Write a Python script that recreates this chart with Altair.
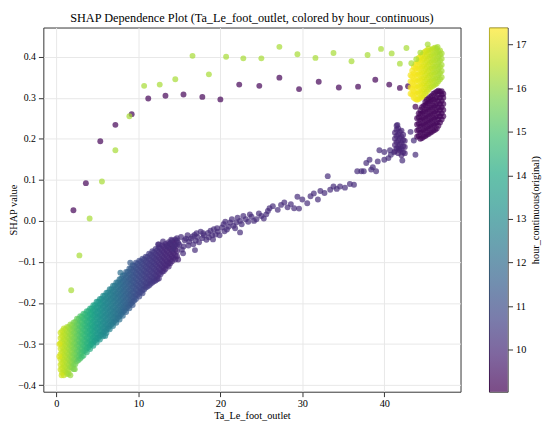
import altair as alt
import pandas as pd

# ---------------- data ----------------
# sparse upper arc (yellow, late hours)
arc_yellow = [(8.9, 0.255), (10.7, 0.329), (12.6, 0.332), (14.5, 0.345), (16.6, 0.402),
              (18.6, 0.357), (20.7, 0.400), (22.8, 0.396), (25.0, 0.396), (27.2, 0.424),
              (29.4, 0.406), (31.6, 0.397), (33.8, 0.409), (36.0, 0.389), (37.96, 0.404),
              (39.6, 0.419), (40.9, 0.408), (41.9, 0.383), (42.7, 0.421), (43.3, 0.384),
              (43.9, 0.394), (44.4, 0.410), (45.3, 0.430), (46.5, 0.424),
              (7.19, 0.172), (5.55, 0.096), (4.05, 0.006), (2.8, -0.084), (1.8, -0.169)]
arc_yellow_hour = 16.3

# sparse upper arc (purple, early hours)
arc_purple = [(9.18, 0.260), (7.19, 0.234), (5.35, 0.194), (3.59, 0.092), (2.07, 0.026),
              (11.2, 0.298), (13.3, 0.305), (15.5, 0.308), (17.8, 0.302), (20.0, 0.296),
              (22.3, 0.332), (24.75, 0.329), (27.2, 0.349), (29.6, 0.321), (32.0, 0.339),
              (34.45, 0.325), (36.8, 0.327), (38.9, 0.344), (40.6, 0.332), (41.9, 0.324),
              (42.9, 0.328), (43.8, 0.278)]
arc_purple_hour = 9.1

# dense lower-left band: (x, hour, [y values])
band_cols = [
    (0.5, 16.8, [-0.272, -0.285, -0.298, -0.311, -0.324, -0.337, -0.350, -0.362]),
    (0.7, 16.7, [-0.268, -0.281, -0.294, -0.307, -0.320, -0.333, -0.346, -0.359, -0.370]),
    (0.9, 16.6, [-0.262, -0.275, -0.288, -0.301, -0.314, -0.327, -0.340, -0.353, -0.366, -0.376]),
    (1.1, 16.5, [-0.264, -0.277, -0.290, -0.303, -0.316, -0.329, -0.342, -0.355, -0.368]),
    (1.3, 16.4, [-0.258, -0.271, -0.284, -0.297, -0.310, -0.323, -0.336, -0.349, -0.362, -0.373]),
    (1.5, 16.25, [-0.259, -0.272, -0.285, -0.298, -0.311, -0.324, -0.337, -0.350, -0.363, -0.372]),
    (1.7, 16.1, [-0.252, -0.265, -0.278, -0.291, -0.304, -0.317, -0.330, -0.343, -0.356, -0.376]),
    (1.9, 15.95, [-0.254, -0.267, -0.280, -0.293, -0.306, -0.319, -0.332, -0.345, -0.357]),
    (2.1, 15.8, [-0.247, -0.260, -0.273, -0.286, -0.299, -0.312, -0.325, -0.338, -0.350, -0.361]),
    (2.3, 15.65, [-0.246, -0.259, -0.272, -0.285, -0.298, -0.311, -0.324, -0.337, -0.349]),
    (2.5, 15.5, [-0.238, -0.251, -0.264, -0.277, -0.290, -0.303, -0.316, -0.329, -0.342]),
    (2.7, 15.3, [-0.239, -0.252, -0.265, -0.278, -0.291, -0.304, -0.317, -0.330, -0.339]),
    (2.9, 15.1, [-0.232, -0.245, -0.258, -0.271, -0.284, -0.297, -0.310, -0.323, -0.335]),
    (3.1, 14.95, [-0.233, -0.246, -0.259, -0.272, -0.285, -0.298, -0.311, -0.322, -0.331]),
    (3.3, 14.8, [-0.226, -0.239, -0.252, -0.265, -0.278, -0.291, -0.304, -0.317, -0.328]),
    (3.5, 14.65, [-0.227, -0.240, -0.253, -0.266, -0.279, -0.292, -0.305, -0.316]),
    (3.7, 14.5, [-0.220, -0.233, -0.246, -0.259, -0.272, -0.285, -0.298, -0.310, -0.320]),
    (3.9, 14.35, [-0.220, -0.233, -0.246, -0.259, -0.272, -0.285, -0.298, -0.308]),
    (4.1, 14.2, [-0.213, -0.226, -0.239, -0.252, -0.265, -0.278, -0.291, -0.303, -0.312]),
    (4.3, 14.05, [-0.213, -0.226, -0.239, -0.252, -0.265, -0.278, -0.291, -0.300]),
    (4.5, 13.9, [-0.205, -0.218, -0.231, -0.244, -0.257, -0.270, -0.283, -0.295, -0.304]),
    (4.7, 13.75, [-0.205, -0.218, -0.231, -0.244, -0.257, -0.270, -0.283, -0.292]),
    (4.9, 13.6, [-0.197, -0.210, -0.223, -0.236, -0.249, -0.262, -0.275, -0.287, -0.296]),
    (5.1, 13.5, [-0.197, -0.210, -0.223, -0.236, -0.249, -0.262, -0.275, -0.285]),
    (5.3, 13.4, [-0.190, -0.203, -0.216, -0.229, -0.242, -0.255, -0.268, -0.280, -0.289]),
    (5.5, 13.25, [-0.190, -0.203, -0.216, -0.229, -0.242, -0.255, -0.268, -0.277]),
    (5.7, 13.1, [-0.182, -0.195, -0.208, -0.221, -0.234, -0.247, -0.260, -0.272, -0.281]),
    (5.9, 13.0, [-0.182, -0.195, -0.208, -0.221, -0.234, -0.247, -0.260, -0.269]),
    (6.1, 12.9, [-0.175, -0.188, -0.201, -0.214, -0.227, -0.240, -0.253, -0.265, -0.273]),
    (6.3, 12.8, [-0.174, -0.187, -0.200, -0.213, -0.226, -0.239, -0.252, -0.261]),
    (6.5, 12.7, [-0.166, -0.179, -0.192, -0.205, -0.218, -0.231, -0.244, -0.256, -0.264]),
    (6.7, 12.6, [-0.166, -0.179, -0.192, -0.205, -0.218, -0.231, -0.244, -0.252]),
    (6.9, 12.5, [-0.158, -0.171, -0.184, -0.197, -0.210, -0.223, -0.236, -0.248, -0.256]),
    (7.1, 12.4, [-0.158, -0.171, -0.184, -0.197, -0.210, -0.223, -0.236, -0.244]),
    (7.3, 12.3, [-0.150, -0.163, -0.176, -0.189, -0.202, -0.215, -0.228, -0.240, -0.248]),
    (7.5, 12.2, [-0.150, -0.163, -0.176, -0.189, -0.202, -0.215, -0.228, -0.236]),
    (7.7, 12.1, [-0.142, -0.155, -0.168, -0.181, -0.194, -0.207, -0.220, -0.232, -0.240]),
    (7.9, 12.0, [-0.141, -0.154, -0.167, -0.180, -0.193, -0.206, -0.219, -0.227]),
    (8.1, 11.9, [-0.133, -0.146, -0.159, -0.172, -0.185, -0.198, -0.211, -0.222, -0.231]),
    (8.3, 11.8, [-0.132, -0.145, -0.158, -0.171, -0.184, -0.197, -0.210, -0.218]),
    (8.5, 11.7, [-0.124, -0.137, -0.150, -0.163, -0.176, -0.189, -0.202, -0.213, -0.222]),
    (8.7, 11.6, [-0.124, -0.137, -0.150, -0.163, -0.176, -0.189, -0.202, -0.209]),
    (8.9, 11.5, [-0.116, -0.129, -0.142, -0.155, -0.168, -0.181, -0.194, -0.205, -0.213]),
    (9.1, 11.4, [-0.116, -0.129, -0.142, -0.155, -0.168, -0.181, -0.194, -0.201]),
    (9.3, 11.3, [-0.108, -0.121, -0.134, -0.147, -0.160, -0.173, -0.186, -0.197, -0.205]),
    (9.5, 11.2, [-0.109, -0.122, -0.135, -0.148, -0.161, -0.174, -0.186, -0.194]),
    (9.7, 11.1, [-0.102, -0.115, -0.128, -0.141, -0.154, -0.167, -0.180, -0.190]),
    (9.9, 11.0, [-0.104, -0.117, -0.130, -0.143, -0.156, -0.169, -0.180]),
    (10.1, 10.9, [-0.097, -0.110, -0.123, -0.136, -0.149, -0.162, -0.175, -0.184]),
    (10.3, 10.85, [-0.099, -0.112, -0.125, -0.138, -0.151, -0.164, -0.173]),
    (10.5, 10.8, [-0.092, -0.105, -0.118, -0.131, -0.144, -0.157, -0.168, -0.176]),
    (10.7, 10.7, [-0.094, -0.107, -0.120, -0.133, -0.146, -0.158, -0.167]),
    (10.9, 10.6, [-0.087, -0.100, -0.113, -0.126, -0.139, -0.152, -0.162]),
    (11.1, 10.55, [-0.088, -0.101, -0.114, -0.127, -0.140, -0.152, -0.160]),
    (11.3, 10.5, [-0.080, -0.093, -0.106, -0.119, -0.132, -0.145, -0.157]),
    (11.5, 10.45, [-0.082, -0.095, -0.108, -0.121, -0.134, -0.146, -0.153]),
    (11.7, 10.4, [-0.074, -0.087, -0.100, -0.113, -0.126, -0.139, -0.150]),
    (11.9, 10.35, [-0.076, -0.089, -0.102, -0.115, -0.128, -0.140, -0.147]),
    (12.1, 10.3, [-0.068, -0.081, -0.094, -0.107, -0.120, -0.133, -0.145]),
    (12.3, 10.25, [-0.071, -0.084, -0.097, -0.110, -0.123, -0.135, -0.142]),
    (12.5, 10.2, [-0.064, -0.077, -0.090, -0.103, -0.116, -0.128, -0.140]),
    (12.7, 10.15, [-0.067, -0.080, -0.093, -0.106, -0.119, -0.130]),
    (12.9, 10.1, [-0.060, -0.073, -0.086, -0.099, -0.112, -0.124]),
    (13.1, 10.05, [-0.063, -0.076, -0.089, -0.102, -0.114, -0.122]),
    (13.3, 10.0, [-0.056, -0.069, -0.082, -0.095, -0.108, -0.117]),
    (13.5, 10.0, [-0.059, -0.072, -0.085, -0.098, -0.108]),
    (13.7, 10.0, [-0.052, -0.065, -0.078, -0.091, -0.103, -0.111]),
    (13.9, 9.95, [-0.055, -0.068, -0.081, -0.094, -0.103]),
    (14.1, 9.9, [-0.048, -0.061, -0.074, -0.087, -0.098]),
    (14.3, 9.9, [-0.052, -0.065, -0.078, -0.090]),
    (14.5, 9.9, [-0.045, -0.058, -0.071, -0.084, -0.094]),
    (14.7, 9.9, [-0.048, -0.061, -0.074, -0.086]),
]

# outliers around the band: (x, y, hour)
band_outliers = [(5.95, -0.280, 13.0), (7.8, -0.126, 12.0), (9.0, -0.102, 11.4),
                 (12.4, -0.057, 10.2), (14.85, -0.094, 9.9), (0.63, -0.376, 16.8),
                 (2.24, -0.361, 15.8), (0.35, -0.300, 16.9), (0.35, -0.330, 16.9)]

# middle band, sparse (indigo)
mid_band = [(12.5, -0.057), (13.0, -0.050), (13.5, -0.062), (13.85, -0.055), (14.0, -0.046),
            (14.2, -0.068), (14.45, -0.060), (14.7, -0.042), (14.85, -0.053), (15.0, -0.058),
            (15.2, -0.039), (15.3, -0.070), (15.45, -0.079), (15.5, -0.062), (15.65, -0.047),
            (15.8, -0.043), (16.0, -0.035), (16.1, -0.060), (16.2, -0.050), (16.4, -0.043),
            (16.6, -0.038), (16.7, -0.057), (16.85, -0.034), (16.9, -0.071), (17.0, -0.048),
            (17.1, -0.030), (17.2, -0.039), (17.4, -0.052), (17.6, -0.026), (17.8, -0.042),
            (17.9, -0.030), (18.0, -0.035), (18.3, -0.046), (18.5, -0.029), (18.6, -0.040),
            (18.8, -0.024), (19.0, -0.035), (19.1, -0.045), (19.2, -0.020), (19.4, -0.033),
            (19.6, -0.018), (19.7, -0.026), (19.9, -0.035), (20.2, -0.016), (20.4, -0.008),
            (20.5, -0.025), (20.6, -0.002), (20.8, -0.021), (21.0, -0.014), (21.2, -0.004),
            (21.4, 0.004), (21.6, -0.012), (21.8, -0.018), (21.95, -0.004), (22.1, 0.008),
            (22.4, 0.000), (22.4, -0.028), (22.6, -0.008), (22.8, 0.012), (23.1, 0.004),
            (23.4, -0.002), (23.6, 0.016), (23.8, 0.010), (24.1, 0.000), (24.4, 0.004),
            (24.7, 0.018), (25.0, 0.012), (25.3, 0.006), (25.6, 0.016), (25.8, 0.024),
            (26.0, 0.031), (26.4, 0.036), (27.0, 0.027), (27.4, 0.039), (27.8, 0.045),
            (28.2, 0.033), (28.6, 0.041), (29.0, 0.031), (29.4, 0.059), (29.6, 0.030),
            (30.0, 0.052), (30.6, 0.043), (31.0, 0.060), (31.4, 0.067), (31.9, 0.052),
            (32.2, 0.073), (32.7, 0.068), (33.1, 0.109), (33.4, 0.076), (33.8, 0.084),
            (34.2, 0.078), (34.6, 0.084), (35.2, 0.081), (35.8, 0.090), (36.3, 0.088),
            (36.7, 0.121), (37.2, 0.121), (37.5, 0.121), (37.8, 0.141), (38.2, 0.149),
            (38.4, 0.125), (38.6, 0.131), (39.0, 0.121), (39.2, 0.145), (39.4, 0.172),
            (40.0, 0.149), (40.0, 0.168), (40.5, 0.153), (40.7, 0.172), (40.8, 0.161),
            (41.2, 0.167), (41.8, 0.176), (42.2, 0.147), (43.8, 0.161), (43.6, 0.196),
            (43.2, 0.217), (41.6, 0.234)]
mid_band_hour = 10.1

# lower purple sub-cluster near x = 41-43: (x, [y values])
sub_cols = [
    (41.3, [0.170, 0.185, 0.200, 0.215]),
    (41.5, [0.177, 0.192, 0.207, 0.222, 0.232]),
    (41.7, [0.165, 0.180, 0.195, 0.210, 0.225]),
    (41.9, [0.172, 0.187, 0.202, 0.217]),
    (42.1, [0.160, 0.175, 0.190, 0.205, 0.220]),
    (42.3, [0.167, 0.182, 0.197, 0.210]),
    (42.5, [0.165, 0.180, 0.195]),
]
sub_hour = 9.9

# right yellow cluster: (x, hour, [y values])
yellow_cols = [
    (43.2, 17.3, [0.310, 0.325, 0.340, 0.355]),
    (43.4, 17.3, [0.307, 0.322, 0.337, 0.352, 0.366]),
    (43.6, 17.3, [0.300, 0.315, 0.330, 0.345, 0.360, 0.375]),
    (43.8, 17.28, [0.297, 0.312, 0.327, 0.342, 0.357, 0.372, 0.382]),
    (44.0, 17.25, [0.295, 0.310, 0.325, 0.340, 0.355, 0.370, 0.385]),
    (44.2, 17.2, [0.297, 0.312, 0.327, 0.342, 0.357, 0.372, 0.387, 0.397]),
    (44.4, 17.15, [0.300, 0.315, 0.330, 0.345, 0.360, 0.375, 0.390, 0.400]),
    (44.6, 17.08, [0.302, 0.317, 0.332, 0.347, 0.362, 0.377, 0.392, 0.405]),
    (44.8, 17.0, [0.305, 0.320, 0.335, 0.350, 0.365, 0.380, 0.395, 0.410]),
    (45.0, 16.93, [0.310, 0.325, 0.340, 0.355, 0.370, 0.385, 0.400, 0.413]),
    (45.2, 16.85, [0.315, 0.330, 0.345, 0.360, 0.375, 0.390, 0.405, 0.415]),
    (45.4, 16.78, [0.320, 0.335, 0.350, 0.365, 0.380, 0.395, 0.410, 0.420]),
    (45.6, 16.7, [0.325, 0.340, 0.355, 0.370, 0.385, 0.400, 0.415]),
    (45.8, 16.62, [0.327, 0.342, 0.357, 0.372, 0.387, 0.402, 0.417]),
    (46.0, 16.55, [0.330, 0.345, 0.360, 0.375, 0.390, 0.405, 0.420]),
    (46.2, 16.5, [0.332, 0.347, 0.362, 0.377, 0.392, 0.407, 0.422]),
    (46.4, 16.45, [0.335, 0.350, 0.365, 0.380, 0.395, 0.410, 0.420]),
    (46.6, 16.4, [0.340, 0.355, 0.370, 0.385, 0.400, 0.413]),
    (46.8, 16.35, [0.345, 0.360, 0.375, 0.390, 0.405, 0.415]),
    (47.0, 16.3, [0.350, 0.365, 0.380, 0.395, 0.408]),
]

# right purple cluster: (x, [y values])
purple_cols = [
    (44.0, [0.205, 0.220, 0.235, 0.250]),
    (44.2, [0.207, 0.222, 0.237, 0.252, 0.262]),
    (44.4, [0.200, 0.215, 0.230, 0.245, 0.260, 0.270]),
    (44.6, [0.202, 0.217, 0.232, 0.247, 0.262, 0.277]),
    (44.8, [0.205, 0.220, 0.235, 0.250, 0.265, 0.280]),
    (45.0, [0.207, 0.222, 0.237, 0.252, 0.267, 0.282, 0.290]),
    (45.2, [0.210, 0.225, 0.240, 0.255, 0.270, 0.285, 0.295]),
    (45.4, [0.212, 0.227, 0.242, 0.257, 0.272, 0.287, 0.298]),
    (45.6, [0.215, 0.230, 0.245, 0.260, 0.275, 0.290, 0.302]),
    (45.8, [0.217, 0.232, 0.247, 0.262, 0.277, 0.292, 0.305]),
    (46.0, [0.220, 0.235, 0.250, 0.265, 0.280, 0.295, 0.310]),
    (46.2, [0.222, 0.237, 0.252, 0.267, 0.282, 0.297, 0.312]),
    (46.4, [0.225, 0.240, 0.255, 0.270, 0.285, 0.300, 0.315]),
    (46.6, [0.232, 0.247, 0.262, 0.277, 0.292, 0.307, 0.317]),
    (46.8, [0.240, 0.255, 0.270, 0.285, 0.300, 0.315]),
    (47.0, [0.247, 0.262, 0.277, 0.292, 0.307, 0.316]),
    (47.2, [0.255, 0.270, 0.285, 0.300, 0.310]),
]
purple_hour = 9.2

# axes / colour bar
x_domain = [-1.6, 49.3]
y_domain = [-0.416, 0.471]
x_ticks = [0, 10, 20, 30, 40]
y_ticks = [-0.4, -0.3, -0.2, -0.1, 0.0, 0.1, 0.2, 0.3, 0.4]
hour_domain = [9.04, 17.39]
hour_ticks = [10, 11, 12, 13, 14, 15, 16, 17]
viridis = ["#440154", "#482475", "#414487", "#355f8d", "#2a788e", "#21918c",
           "#22a884", "#44bf70", "#7ad151", "#bddf26", "#fde725"]

# ---------------- build table ----------------
rows = []
for x, y in arc_purple:
    rows.append((x, y, arc_purple_hour))
for x, h, ys in band_cols:
    for y in ys:
        rows.append((x, y, h))
for x, y, h in band_outliers:
    rows.append((x, y, h))
for x, y in mid_band:
    rows.append((x, y, mid_band_hour))
for x, ys in sub_cols:
    for y in ys:
        rows.append((x, y, sub_hour))
for x, h, ys in yellow_cols:
    for y in ys:
        rows.append((x, y, h))
for x, y in arc_yellow:
    rows.append((x, y, arc_yellow_hour))
for x, ys in purple_cols:
    for y in ys:
        rows.append((x, y, purple_hour))
df = pd.DataFrame(rows, columns=["x", "y", "hour"])

FONT = "Liberation Serif"
ALPHA = 0.7

scatter = alt.Chart(df).mark_circle(size=36, opacity=ALPHA).encode(
    x=alt.X("x:Q", scale=alt.Scale(domain=x_domain, nice=False, zero=False),
            axis=alt.Axis(values=x_ticks, title="Ta_Le_foot_outlet", format="d",
                          grid=True, tickSize=5, labelPadding=2,
                          titleY=19, titleBaseline="top")),
    y=alt.Y("y:Q", scale=alt.Scale(domain=y_domain, nice=False, zero=False),
            axis=alt.Axis(values=y_ticks, title="SHAP value", format=".1f",
                          grid=True, tickSize=5, labelPadding=3, labelFontSize=10,
                          titleX=-35, titleAngle=270, titleBaseline="top")),
    color=alt.Color("hour:Q", scale=alt.Scale(scheme="viridis", domain=hour_domain),
                    legend=None),
).properties(
    width=425, height=371,
    title=alt.TitleParams("SHAP Dependence Plot (Ta_Le_foot_outlet, colored by hour_continuous)",
                          fontSize=12.5, fontWeight="normal", font=FONT, offset=3,
                          anchor="middle", color="black"),
)

cb_df = pd.DataFrame({"lo": [hour_domain[0]], "hi": [hour_domain[1]]})
stops = [alt.GradientStop(offset=i / (len(viridis) - 1), color=c) for i, c in enumerate(viridis)]
colorbar = alt.Chart(cb_df).mark_rect(
    color=alt.Gradient(gradient="linear", stops=stops, x1=0, x2=0, y1=1, y2=0),
    opacity=ALPHA,
).encode(
    x=alt.value(0), x2=alt.value(19),
    y=alt.Y("lo:Q", scale=alt.Scale(domain=hour_domain, nice=False, zero=False),
            axis=alt.Axis(orient="right", values=hour_ticks, format="d", grid=False,
                          title="hour_continuous(original)", titleAngle=270,
                          titleBaseline="top", titlePadding=5, tickSize=5,
                          labelPadding=3)),
    y2="hi:Q",
).properties(width=19, height=371)

chart = alt.hconcat(scatter, colorbar, spacing=27).properties(
    padding={"left": 0, "top": 0, "right": 0, "bottom": 0}
).configure(font=FONT).configure_axis(
    labelFont=FONT, titleFont=FONT, labelFontSize=10.5, titleFontSize=10.5,
    titleFontWeight="normal", labelColor="black", titleColor="black",
    gridColor="#e8e8e8", gridWidth=1, tickColor="#333333", tickSize=4,
    domain=False,
).configure_view(stroke="#333333", strokeWidth=1)

chart.save("out.html", embed_options={"renderer": "svg", "actions": False})
